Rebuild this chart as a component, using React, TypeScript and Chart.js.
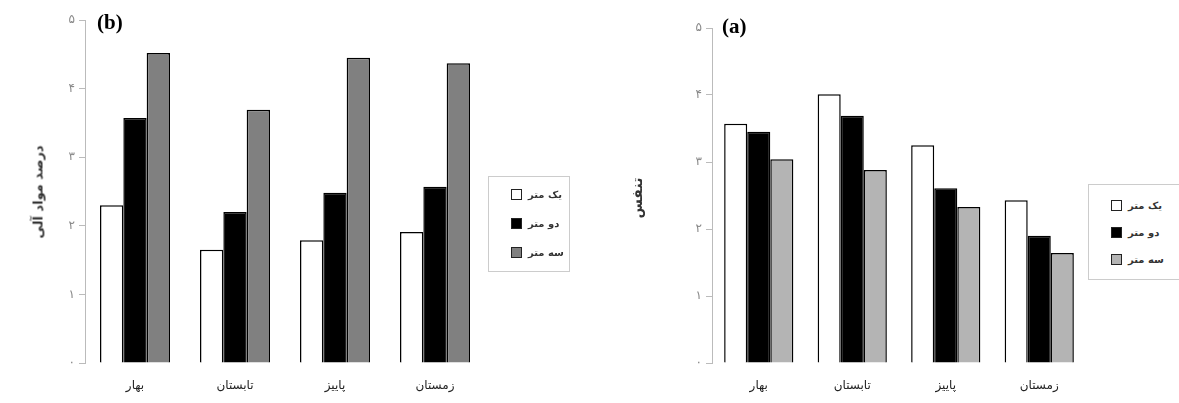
import React, { useEffect, useRef } from "react";
import { Chart, registerables } from "chart.js";
Chart.register(...registerables);

const categories = ["بهار", "تابستان", "پاییز", "زمستان"];
const seriesNames = ["یک متر", "دو متر", "سه متر"];
const yTickLabels = ["۰", "۱", "۲", "۳", "۴", "۵"];

// chart (b): organic matter percentage
const b_oneMeter = [2.3, 1.65, 1.79, 1.91];
const b_twoMeter = [3.57, 2.2, 2.48, 2.57];
const b_threeMeter = [4.52, 3.69, 4.45, 4.37];

// chart (a)
const a_oneMeter = [3.57, 4.01, 3.25, 2.43];
const a_twoMeter = [3.45, 3.69, 2.61, 1.9];
const a_threeMeter = [3.04, 2.88, 2.33, 1.64];

const FONT = "'DejaVu Sans', sans-serif";

type Props = {
  left: number;
  width: number;
  yWidth: number;
  top: number;
  padRight: number;
  catPct: number;
  values: number[][];
  colors: string[];
};

function BarChart({ left, width, yWidth, top, padRight, catPct, values, colors }: Props) {
  const ref = useRef<HTMLCanvasElement | null>(null);
  useEffect(() => {
    if (!ref.current) return;
    const chart = new Chart(ref.current, {
      type: "bar",
      data: {
        labels: categories,
        datasets: values.map((v, i) => ({
          label: seriesNames[i],
          data: v,
          backgroundColor: colors[i],
          borderColor: "#000",
          borderWidth: 1.5,
          categoryPercentage: catPct,
          barPercentage: 1,
        })),
      },
      options: {
        animation: false,
        responsive: false,
        maintainAspectRatio: false,
        layout: { padding: { top, right: padRight, left: 0, bottom: 0 } },
        plugins: { legend: { display: false }, tooltip: { enabled: false } },
        scales: {
          x: {
            grid: { display: false },
            border: { display: false },
            ticks: { color: "#222", font: { family: FONT, size: 12 }, padding: 8 },
            afterFit: (s: any) => {
              s.height = 40;
            },
          },
          y: {
            min: 0,
            max: 5,
            grid: { drawOnChartArea: false, color: "#bbb", tickLength: 6 },
            border: { display: true, color: "#bbb" },
            ticks: {
              stepSize: 1,
              color: "#888",
              font: { family: FONT, size: 12 },
              padding: 4,
              callback: (v: any) => yTickLabels[Number(v)] ?? "",
            },
            afterFit: (s: any) => {
              s.width = yWidth;
            },
          },
        },
      },
    });
    return () => chart.destroy();
  }, []);
  return (
    <canvas
      ref={ref}
      width={width}
      height={403}
      style={{ position: "absolute", left, top: 0, width, height: 403 }}
    />
  );
}

function Legend({ left, top, width, height, colors, rowTop, gap }: any) {
  return (
    <div
      style={{
        position: "absolute",
        left,
        top,
        width,
        height,
        border: "1px solid #ccc",
        boxSizing: "border-box",
        background: "#fff",
      }}
    >
      {seriesNames.map((n, i) => (
        <div
          key={n}
          style={{
            position: "absolute",
            left: 22,
            top: rowTop + i * gap,
            display: "flex",
            alignItems: "center",
            fontFamily: FONT,
            fontSize: 10,
            fontWeight: "bold",
            color: "#333",
            whiteSpace: "nowrap",
          }}
        >
          <span
            style={{
              display: "inline-block",
              width: 9,
              height: 9,
              border: "1.5px solid #222",
              background: colors[i],
              marginRight: 6,
            }}
          />
          <span>{n}</span>
        </div>
      ))}
    </div>
  );
}

export default function App() {
  const colorsB = ["#ffffff", "#000000", "#808080"];
  const colorsA = ["#ffffff", "#000000", "#b4b4b4"];
  return (
    <div
      style={{
        position: "fixed",
        left: 0,
        top: 0,
        width: 1179,
        height: 403,
        background: "#fff",
        overflow: "hidden",
      }}
    >
      <BarChart
        left={0}
        width={490}
        yWidth={85}
        top={20}
        padRight={5}
        catPct={0.7}
        values={[b_oneMeter, b_twoMeter, b_threeMeter]}
        colors={colorsB}
      />
      <BarChart
        left={600}
        width={490}
        yWidth={112}
        top={28}
        padRight={4}
        catPct={0.74}
        values={[a_oneMeter, a_twoMeter, a_threeMeter]}
        colors={colorsA}
      />
      <div
        style={{
          position: "absolute",
          left: 97,
          top: 10,
          fontFamily: "'Liberation Serif', serif",
          fontWeight: "bold",
          fontSize: 21,
        }}
      >
        (b)
      </div>
      <div
        style={{
          position: "absolute",
          left: 722,
          top: 14,
          fontFamily: "'Liberation Serif', serif",
          fontWeight: "bold",
          fontSize: 21,
        }}
      >
        (a)
      </div>
      <div
        style={{
          position: "absolute",
          left: 38,
          top: 192,
          transform: "translate(-50%, -50%) rotate(-90deg)",
          fontFamily: FONT,
          fontSize: 13,
          fontWeight: "bold",
          whiteSpace: "nowrap",
          color: "#333",
        }}
      >
        درصد مواد آلی
      </div>
      <div
        style={{
          position: "absolute",
          left: 637,
          top: 198,
          transform: "translate(-50%, -50%) rotate(-90deg)",
          fontFamily: FONT,
          fontSize: 14,
          fontWeight: "bold",
          whiteSpace: "nowrap",
          color: "#333",
        }}
      >
        تنفس
      </div>
      <Legend left={488} top={176} width={82} height={96} colors={colorsB} rowTop={12} gap={29} />
      <Legend left={1088} top={184} width={95} height={96} colors={colorsA} rowTop={15} gap={27} />
    </div>
  );
}
